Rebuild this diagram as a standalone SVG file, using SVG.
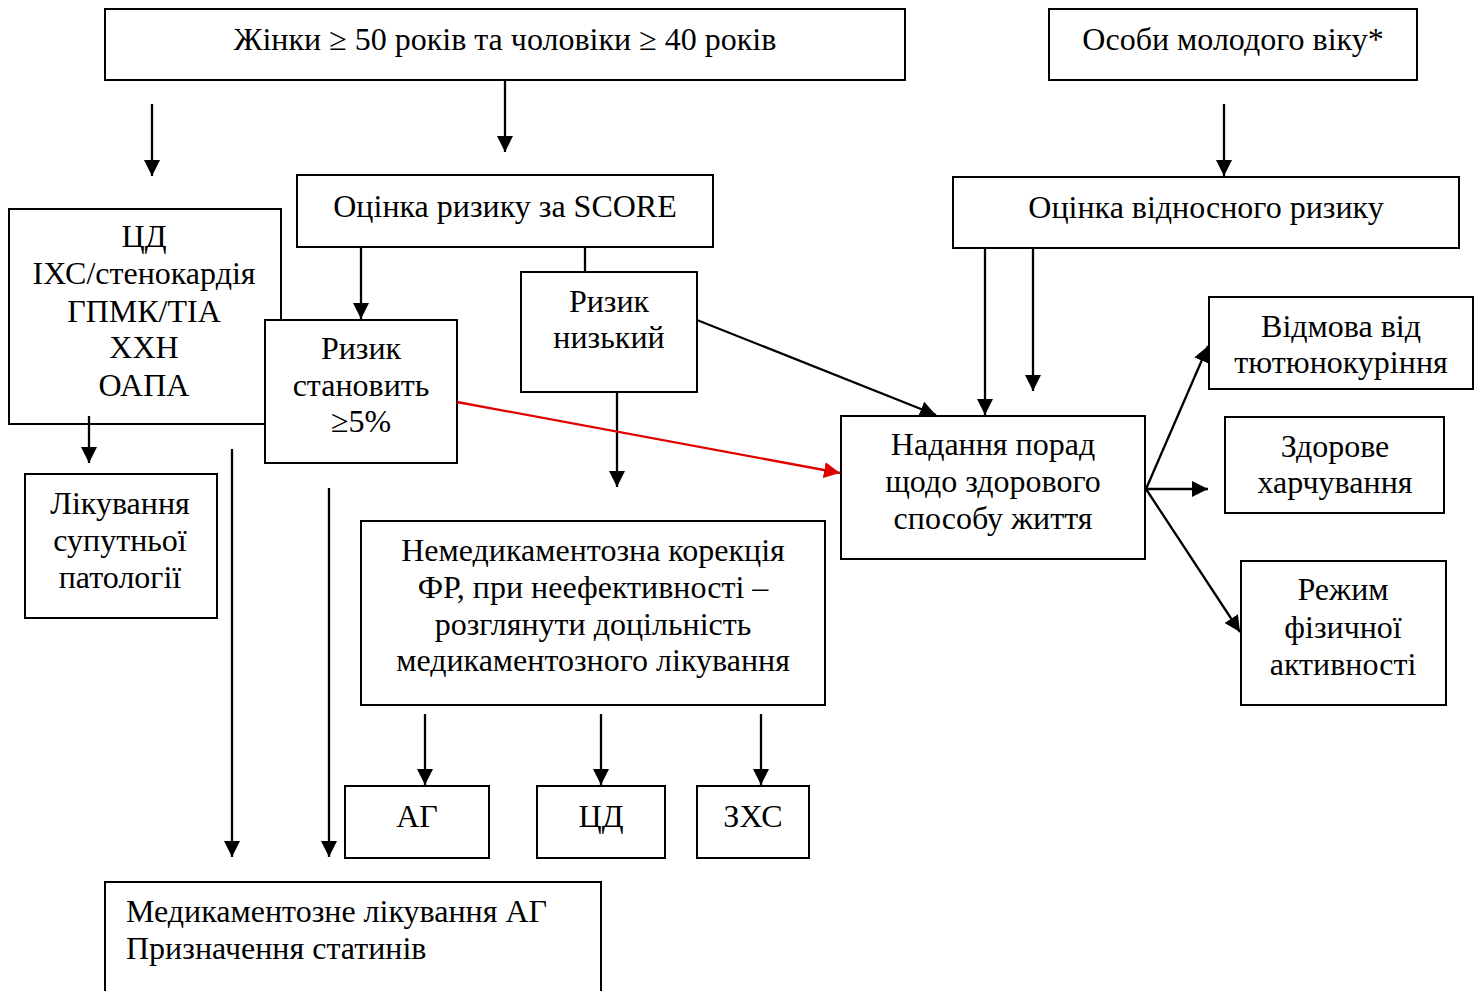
<svg xmlns="http://www.w3.org/2000/svg" width="1479" height="991" viewBox="0 0 1479 991">
<style>
.box{fill:#fff;stroke:#000;stroke-width:2}
.t{font-family:"Liberation Serif","Times New Roman",serif;font-size:32px;fill:#000;text-anchor:middle}
.tl{font-family:"Liberation Serif","Times New Roman",serif;font-size:32px;fill:#000}
.c{stroke:#000;stroke-width:2.3;fill:none}
.r{stroke:#e00000;stroke-width:2.3;fill:none}
</style>
<defs>
<marker id="a" markerUnits="userSpaceOnUse" markerWidth="16" markerHeight="16" refX="16" refY="8" orient="auto"><path d="M0,0 L16,8 L0,16 z" fill="#000"/></marker>
<marker id="ar" markerUnits="userSpaceOnUse" markerWidth="16" markerHeight="16" refX="16" refY="8" orient="auto"><path d="M0,0 L16,8 L0,16 z" fill="#e00000"/></marker>
</defs>
<rect width="1479" height="991" fill="#fff"/>
<g id="n-top"><rect class="box" x="105" y="9" width="800" height="71"/><text class="t" x="505" y="50">Жінки ≥ 50 років та чоловіки ≥ 40 років</text></g>
<g id="n-young"><rect class="box" x="1049" y="9" width="368" height="71"/><text class="t" x="1233" y="50">Особи молодого віку*</text></g>
<g id="n-score"><rect class="box" x="297" y="175" width="416" height="72"/><text class="t" x="505" y="217">Оцінка ризику за SCORE</text></g>
<g id="n-rel"><rect class="box" x="953" y="177" width="506" height="71"/><text class="t" x="1206" y="218">Оцінка відносного ризику</text></g>
<g id="n-dis"><rect class="box" x="9" y="209" width="272" height="215"/><text class="t" x="144" y="247">ЦД</text><text class="t" x="144" y="284">ІХС/стенокардія</text><text class="t" x="144" y="322">ГПМК/ТІА</text><text class="t" x="144" y="358">ХХН</text><text class="t" x="144" y="396">ОАПА</text></g>
<g id="n-high"><rect class="box" x="265" y="320" width="192" height="143"/><text class="t" x="361" y="359">Ризик</text><text class="t" x="361" y="396">становить</text><text class="t" x="361" y="432">≥5%</text></g>
<g id="n-low"><rect class="box" x="521" y="272" width="176" height="120"/><text class="t" x="609" y="312">Ризик</text><text class="t" x="609" y="348">низький</text></g>
<g id="n-treat"><rect class="box" x="25" y="474" width="192" height="144"/><text class="t" x="120" y="514">Лікування</text><text class="t" x="120" y="551">супутньої</text><text class="t" x="120" y="588">патології</text></g>
<g id="n-nonmed"><rect class="box" x="361" y="521" width="464" height="184"/><text class="t" x="593" y="561">Немедикаментозна корекція</text><text class="t" x="593" y="598">ФР, при неефективності –</text><text class="t" x="593" y="635">розглянути доцільність</text><text class="t" x="593" y="671">медикаментозного лікування</text></g>
<g id="n-advice"><rect class="box" x="841" y="416" width="304" height="143"/><text class="t" x="993" y="455">Надання порад</text><text class="t" x="993" y="492">щодо здорового</text><text class="t" x="993" y="529">способу життя</text></g>
<g id="n-smoke"><rect class="box" x="1209" y="297" width="264" height="92"/><text class="t" x="1341" y="337">Відмова від</text><text class="t" x="1341" y="373">тютюнокуріння</text></g>
<g id="n-food"><rect class="box" x="1225" y="417" width="219" height="96"/><text class="t" x="1335" y="457">Здорове</text><text class="t" x="1335" y="493">харчування</text></g>
<g id="n-phys"><rect class="box" x="1241" y="561" width="205" height="144"/><text class="t" x="1343" y="600">Режим</text><text class="t" x="1343" y="638">фізичної</text><text class="t" x="1343" y="675">активності</text></g>
<g id="n-ag"><rect class="box" x="345" y="786" width="144" height="72"/><text class="t" x="417" y="827">АГ</text></g>
<g id="n-cd"><rect class="box" x="537" y="786" width="128" height="72"/><text class="t" x="601" y="827">ЦД</text></g>
<g id="n-zhs"><rect class="box" x="697" y="786" width="112" height="72"/><text class="t" x="753" y="827">ЗХС</text></g>
<g id="n-med"><rect class="box" x="105" y="882" width="496" height="130"/><text class="tl" x="126" y="922">Медикаментозне лікування АГ</text><text class="tl" x="126" y="959">Призначення статинів</text></g>
<g id="connectors">
<line class="c" x1="505" y1="80" x2="505" y2="152" marker-end="url(#a)"/>
<line class="c" x1="152" y1="104" x2="152" y2="176" marker-end="url(#a)"/>
<line class="c" x1="1224" y1="104" x2="1224" y2="176" marker-end="url(#a)"/>
<line class="c" x1="361" y1="247" x2="361" y2="319" marker-end="url(#a)"/>
<line class="c" x1="585" y1="247" x2="585" y2="272"/>
<line class="c" x1="89" y1="416" x2="89" y2="463" marker-end="url(#a)"/>
<line class="c" x1="232" y1="449" x2="232" y2="857" marker-end="url(#a)"/>
<line class="c" x1="329" y1="488" x2="329" y2="857" marker-end="url(#a)"/>
<line class="c" x1="617" y1="392" x2="617" y2="487" marker-end="url(#a)"/>
<line class="c" x1="697" y1="320" x2="936" y2="415" marker-end="url(#a)"/>
<line class="r" x1="457" y1="402" x2="840" y2="473" marker-end="url(#ar)"/>
<line class="c" x1="985" y1="248" x2="985" y2="415" marker-end="url(#a)"/>
<line class="c" x1="1033" y1="248" x2="1033" y2="391" marker-end="url(#a)"/>
<line class="c" x1="1146" y1="489" x2="1208" y2="346" marker-end="url(#a)"/>
<line class="c" x1="1146" y1="489" x2="1208" y2="489" marker-end="url(#a)"/>
<line class="c" x1="1146" y1="489" x2="1240" y2="632" marker-end="url(#a)"/>
<line class="c" x1="425" y1="714" x2="425" y2="785" marker-end="url(#a)"/>
<line class="c" x1="601" y1="714" x2="601" y2="785" marker-end="url(#a)"/>
<line class="c" x1="761" y1="714" x2="761" y2="785" marker-end="url(#a)"/>
</g>
</svg>
